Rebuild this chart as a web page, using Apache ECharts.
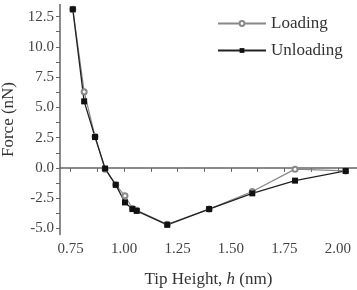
<!DOCTYPE html>
<html>
<head>
<meta charset="utf-8">
<script src="https://cdn.jsdelivr.net/npm/echarts@6/dist/echarts.min.js"></script>
<style>
  html, body { margin: 0; padding: 0; background: #fff; }
  #main { width: 357px; height: 290px; }
</style>
</head>
<body>
<div id="main"></div>
<script>
// tip height (nm)
var heights = [0.76, 0.813, 0.864, 0.911, 0.961, 1.004, 1.039, 1.059, 1.202, 1.398, 1.60, 1.80, 2.037];
// force (nN)
var loading   = [13.1, 6.3, 2.6, -0.1, -1.4, -2.3, -3.35, -3.5, -4.65, -3.4, -1.95, -0.1, -0.25];
var unloading = [13.1, 5.5, 2.55, -0.05, -1.4, -2.85, -3.4, -3.55, -4.7, -3.4, -2.1, -1.05, -0.25];

var xLabels = [0.75, 1.0, 1.25, 1.5, 1.75, 2.0];
var xTicks = [0.75, 0.875, 1.0, 1.125, 1.25, 1.375, 1.5, 1.625, 1.75, 1.875, 2.0];
var yLabels = [-5, -2.5, 0, 2.5, 5, 7.5, 10, 12.5];
var yTicks = [-5, -3.75, -2.5, -1.25, 0, 1.25, 2.5, 3.75, 5, 6.25, 7.5, 8.75, 10, 11.25, 12.5];

function pairs(xs, ys) {
  var res = [];
  xs.forEach(function (v, i) { res.push([v, ys[i]]); });
  return res;
}

var font = 'Liberation Serif';
var chart = echarts.init(document.getElementById('main'));

var option = {
  animation: false,
  grid: { left: 60, right: 0, top: 4.5, bottom: 55.5, outerBoundsMode: 'none', containLabel: false },
  legend: {
    left: 212,
    top: 10,
    orient: 'vertical',
    itemWidth: 48,
    itemHeight: 6,
    itemGap: 10,
    textStyle: { fontFamily: font, fontSize: 17, color: '#333' },
    data: ['Loading', 'Unloading']
  },
  xAxis: {
    type: 'value',
    min: 0.7,
    max: 2.09,
    name: 'Tip Height, {i|h} (nm)',
    nameLocation: 'middle',
    nameGap: 37,
    nameTextStyle: {
      fontFamily: font, fontSize: 17, color: '#333',
      rich: { i: { fontFamily: font, fontSize: 17, fontStyle: 'italic', color: '#333' } }
    },
    splitLine: { show: false },
    axisLine: { lineStyle: { color: '#666', width: 1.5 } },
    axisTick: { customValues: xTicks, length: 4, lineStyle: { color: '#666' } },
    axisLabel: {
      customValues: xLabels,
      fontFamily: font, fontSize: 15, color: '#444', margin: 7,
      formatter: function (v) { return v.toFixed(2); }
    }
  },
  yAxis: {
    type: 'value',
    min: -5.5,
    max: 13.5,
    name: 'Force (nN)',
    nameLocation: 'middle',
    nameGap: 36,
    nameTextStyle: { fontFamily: font, fontSize: 17, color: '#333' },
    splitLine: { show: false },
    axisLine: { lineStyle: { color: '#666', width: 1.5 } },
    axisTick: { customValues: yTicks, length: 4, lineStyle: { color: '#666' } },
    axisLabel: {
      customValues: yLabels,
      fontFamily: font, fontSize: 15, color: '#444', margin: 6,
      formatter: function (v) { return v.toFixed(1); }
    }
  },
  series: [
    {
      name: 'Loading',
      type: 'line',
      data: pairs(heights, loading),
      symbol: 'emptyCircle',
      symbolSize: 5,
      lineStyle: { color: '#888', width: 1.2 },
      itemStyle: { color: '#888', borderWidth: 1 }
    },
    {
      name: 'Unloading',
      type: 'line',
      data: pairs(heights, unloading),
      symbol: 'rect',
      symbolSize: 6,
      lineStyle: { color: '#222', width: 1.3 },
      itemStyle: { color: '#111' }
    }
  ]
};

chart.setOption(option);
</script>
</body>
</html>
